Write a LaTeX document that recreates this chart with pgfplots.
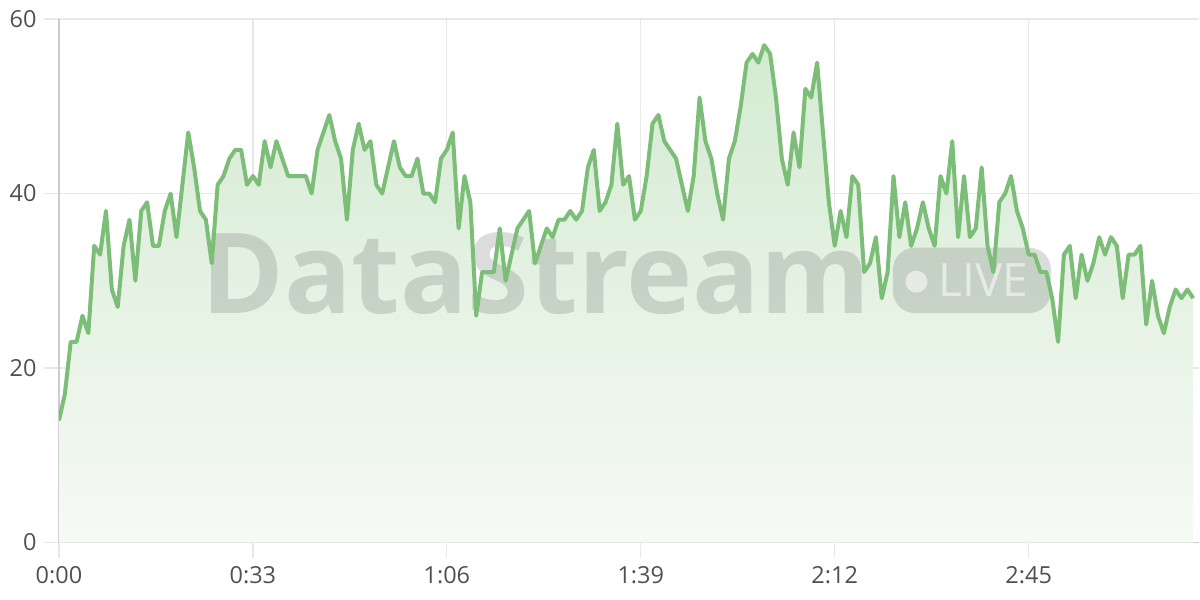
\documentclass[border=0pt]{standalone}
\usepackage{fontspec}
\setmainfont{Open Sans}
\usepackage{pgfplots}
\usepackage{pgfplotstable}
\pgfplotsset{compat=1.18}

\definecolor{linegreen}{RGB}{124,190,120}
\definecolor{filltop}{RGB}{212,234,210}
\definecolor{fillbot}{RGB}{246,250,245}
\definecolor{gridgray}{RGB}{232,232,232}
\definecolor{axisgray}{RGB}{204,204,204}
\definecolor{labelgray}{RGB}{80,80,80}
\definecolor{wmgray}{RGB}{115,120,115}

\pgfplotstableread{
t v
0 14
1 17
2 23
3 23
4 26
5 24
6 34
7 33
8 38
9 29
10 27
11 34
12 37
13 30
14 38
15 39
16 34
17 34
18 38
19 40
20 35
21 41
22 47
23 43
24 38
25 37
26 32
27 41
28 42
29 44
30 45
31 45
32 41
33 42
34 41
35 46
36 43
37 46
38 44
39 42
40 42
41 42
42 42
43 40
44 45
45 47
46 49
47 46
48 44
49 37
50 45
51 48
52 45
53 46
54 41
55 40
56 43
57 46
58 43
59 42
60 42
61 44
62 40
63 40
64 39
65 44
66 45
67 47
68 36
69 42
70 39
71 26
72 31
73 31
74 31
75 36
76 30
77 33
78 36
79 37
80 38
81 32
82 34
83 36
84 35
85 37
86 37
87 38
88 37
89 38
90 43
91 45
92 38
93 39
94 41
95 48
96 41
97 42
98 37
99 38
100 42
101 48
102 49
103 46
104 45
105 44
106 41
107 38
108 42
109 51
110 46
111 44
112 40
113 37
114 44
115 46
116 50
117 55
118 56
119 55
120 57
121 56
122 51
123 44
124 41
125 47
126 43
127 52
128 51
129 55
130 47
131 39
132 34
133 38
134 35
135 42
136 41
137 31
138 32
139 35
140 28
141 31
142 42
143 35
144 39
145 34
146 36
147 39
148 36
149 34
150 42
151 40
152 46
153 35
154 42
155 35
156 36
157 43
158 34
159 31
160 39
161 40
162 42
163 38
164 36
165 33
166 33
167 31
168 31
169 28
170 23
171 33
172 34
173 28
174 33
175 30
176 32
177 35
178 33
179 35
180 34
181 28
182 33
183 33
184 34
185 25
186 30
187 26
188 24
189 27
190 29
191 28
192 29
193 28
}\streamdata

\begin{document}
\begin{tikzpicture}
\begin{axis}[
  scale only axis,
  width=1141pt, height=524pt,
  xmin=0, xmax=194,
  ymin=0, ymax=60,
  axis lines=left,
  axis line style={-, draw=axisgray, line width=1.8pt},
  xtick={0,33,66,99,132,165},
  xticklabels={0:00,0:33,1:06,1:39,2:12,2:45},
  ytick={0,20,40,60},
  grid=major,
  grid style={draw=gridgray, line width=1.3pt},
  tick align=outside,
  major tick length=15pt,
  tick style={draw=gridgray, line width=1.3pt},
  tick label style={font=\fontsize{23.5}{28}\selectfont, text=labelgray},
  /pgf/number format/assume math mode=true,
  xticklabel style={yshift=-5pt},
  yticklabel style={xshift=-4pt},
  clip=true,
]
\addplot[draw=none, top color=filltop, bottom color=fillbot] table[x=t, y=v] {\streamdata} \closedcycle;

% watermark
\node[anchor=base west, inner sep=0pt, text=wmgray, opacity=0.26,
  font=\fontsize{112}{112}\selectfont\bfseries] at (axis cs:24.2,26.3) {DataStream};
\fill[wmgray, opacity=0.26, rounded corners=22pt] (axis cs:141.9,26.3) rectangle (axis cs:168.8,33.8);
\fill[white, opacity=0.55] (axis cs:145.9,29.9) circle (11pt);
\node[anchor=base west, inner sep=0pt, text=white, opacity=0.55,
  font=\fontsize{46}{46}\selectfont] at (axis cs:149.7,28.2) {LIVE};

\addplot[linegreen, line width=4pt, line join=round] table[x=t, y=v] {\streamdata};
\end{axis}
\path ([shift={(-59pt,-57pt)}]current axis.south west) rectangle ([shift={(0pt,19pt)}]current axis.north east);
\end{tikzpicture}
\end{document}
